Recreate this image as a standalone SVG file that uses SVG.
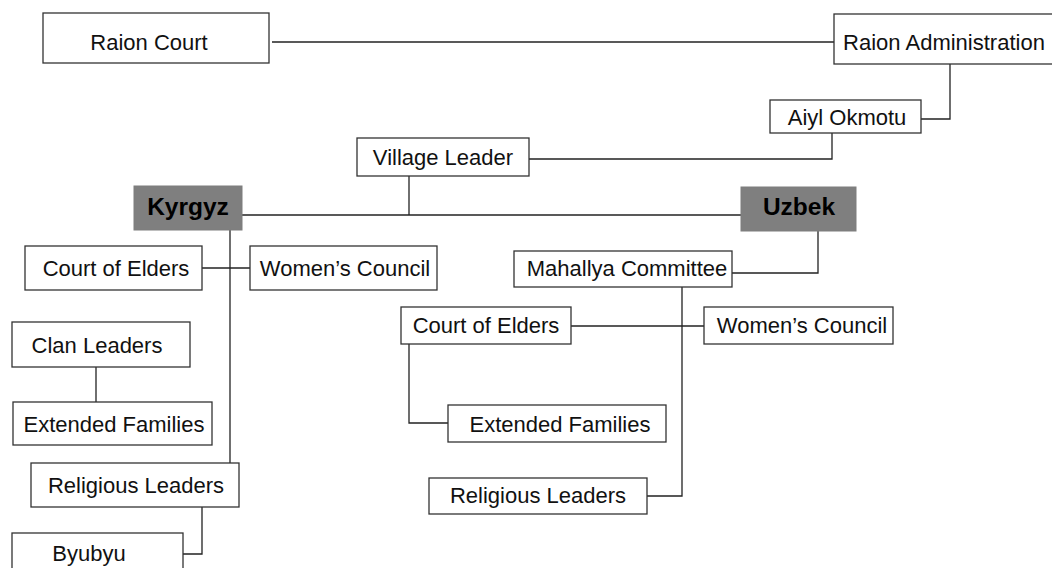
<svg xmlns="http://www.w3.org/2000/svg" width="1052" height="568" viewBox="0 0 1052 568">
<style>
.box{fill:#fff;stroke:#333;stroke-width:1.3}
.dark{fill:#7f7f7f;stroke:#7f7f7f;stroke-width:1}
.t{font-family:"Liberation Sans",Arial,sans-serif;font-size:22px;fill:#111;text-anchor:middle}
.b{font-family:"Liberation Sans",Arial,sans-serif;font-size:24.5px;font-weight:bold;fill:#000;text-anchor:middle}
.c{fill:none;stroke:#222;stroke-width:1.3}
</style>
<rect width="1052" height="568" fill="#fff"/>
<g id="connectors">
<path class="c" d="M272,42 H834"/>
<path class="c" d="M921,119 H950 V64"/>
<path class="c" d="M529,159 H832 V133"/>
<path class="c" d="M242,215 H741"/>
<path class="c" d="M409,176 V215"/>
<path class="c" d="M230,230 V463"/>
<path class="c" d="M202,268 H250"/>
<path class="c" d="M96,367 V402"/>
<path class="c" d="M202,507 V554 H183"/>
<path class="c" d="M818,231 V273 H732"/>
<path class="c" d="M682,287 V496 H647"/>
<path class="c" d="M571,326 H704"/>
<path class="c" d="M409,344 V423 H448"/>
</g>
<g id="raion-court"><rect class="box" x="43" y="13" width="226" height="50"/><text class="t" x="149" y="50">Raion Court</text></g>
<g id="raion-administration"><rect class="box" x="834" y="14" width="230" height="50"/><text class="t" x="944" y="50">Raion Administration</text></g>
<g id="aiyl-okmotu"><rect class="box" x="770" y="100" width="151" height="33"/><text class="t" x="847" y="125">Aiyl Okmotu</text></g>
<g id="village-leader"><rect class="box" x="357" y="138" width="172" height="38"/><text class="t" x="443" y="165">Village Leader</text></g>
<g id="kyrgyz"><rect class="dark" x="134" y="186" width="108" height="44"/><text class="b" x="188" y="215">Kyrgyz</text></g>
<g id="uzbek"><rect class="dark" x="741" y="187" width="115" height="44"/><text class="b" x="799" y="215">Uzbek</text></g>
<g id="court-of-elders-k"><rect class="box" x="25" y="246" width="177" height="44"/><text class="t" x="116" y="276">Court of Elders</text></g>
<g id="womens-council-k"><rect class="box" x="250" y="246" width="187" height="44"/><text class="t" x="345" y="276">Women’s Council</text></g>
<g id="clan-leaders"><rect class="box" x="12" y="322" width="178" height="45"/><text class="t" x="97" y="353">Clan Leaders</text></g>
<g id="extended-families-k"><rect class="box" x="13" y="402" width="199" height="43"/><text class="t" x="114" y="432">Extended Families</text></g>
<g id="religious-leaders-k"><rect class="box" x="31" y="463" width="208" height="44"/><text class="t" x="136" y="493">Religious Leaders</text></g>
<g id="byubyu"><rect class="box" x="12" y="533" width="171" height="45"/><text class="t" x="89" y="561">Byubyu</text></g>
<g id="mahallya-committee"><rect class="box" x="514" y="251" width="218" height="36"/><text class="t" x="627" y="276">Mahallya Committee</text></g>
<g id="court-of-elders-u"><rect class="box" x="401" y="307" width="170" height="37"/><text class="t" x="486" y="333">Court of Elders</text></g>
<g id="womens-council-u"><rect class="box" x="704" y="307" width="189" height="37"/><text class="t" x="802" y="333">Women’s Council</text></g>
<g id="extended-families-u"><rect class="box" x="448" y="405" width="218" height="37"/><text class="t" x="560" y="432">Extended Families</text></g>
<g id="religious-leaders-u"><rect class="box" x="429" y="478" width="218" height="36"/><text class="t" x="538" y="503">Religious Leaders</text></g>
</svg>
